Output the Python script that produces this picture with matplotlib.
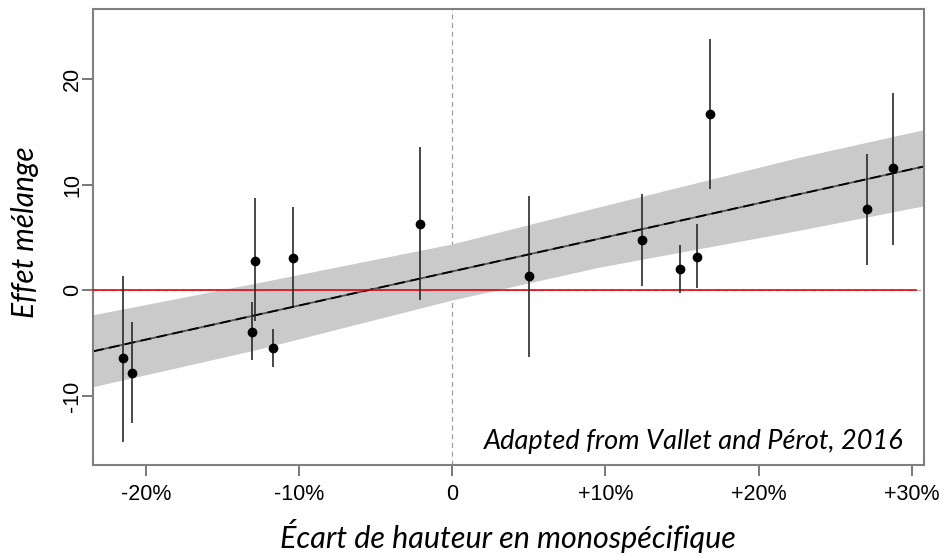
"""Mixing effect vs. monospecific height gap, with fitted trend and confidence band."""
import matplotlib
matplotlib.use("Agg")
import matplotlib.pyplot as plt

# stand-level estimates (height gap in %, mixing effect) with interval bounds
gap = [-21.5, -20.9, -13.1, -12.9, -11.7, -10.4, -2.1, 5.0, 12.4, 14.9, 16.0, 16.8, 27.1, 28.8]
effect = [-6.4, -7.8, -3.9, 2.8, -5.4, 3.1, 6.3, 1.4, 4.8, 2.0, 3.2, 16.7, 7.7, 11.6]
effect_low = [-14.3, -12.5, -6.6, -2.9, -7.2, -1.5, -0.9, -6.3, 0.4, -0.2, 0.2, 9.6, 2.4, 4.3]
effect_high = [1.4, -3.0, -1.1, 8.7, -3.6, 7.9, 13.6, 8.9, 9.1, 4.3, 6.3, 23.8, 12.9, 18.7]

# fitted line and its confidence band
fit_x = [-23.46, 30.8]
fit_y = [-5.76, 11.72]
band_x = [-23.46, -12.8, 0.0, 9.6, 22.7, 30.8]
band_low = [-9.1, -5.6, -0.9, 2.2, 5.7, 8.0]
band_high = [-2.3, 0.7, 4.4, 7.9, 12.6, 15.2]

x_ticks = [-20, -10, 0, 10, 20, 30]
x_tick_labels = ["-20%", "-10%", "0", "+10%", "+20%", "+30%"]
y_ticks = [-10, 0, 10, 20]

fig = plt.figure(figsize=(9.41, 5.56), dpi=100)
ax = fig.add_axes([93 / 941, 91 / 556, 831 / 941, 456 / 556])

ax.fill_between(band_x, band_low, band_high, color="#cacaca", lw=0, zorder=1)
ax.plot(fit_x, fit_y, color="#555555", lw=1.3, zorder=2)
ax.plot(fit_x, fit_y, color="black", lw=1.3, ls=(0, (6, 3)), zorder=2)

ax.axvline(0, color="#a0a0a0", lw=0.9, ls=(0, (4, 3)), zorder=0)
ax.axhline(0, color="#b0b0b0", lw=0.9, ls=(0, (4, 3)), zorder=0)
ax.plot([-23.46, 30.3], [0, 0], color="#e8000b", lw=1.2, zorder=3, clip_on=False)

ax.vlines(gap, effect_low, effect_high, color="#2a2a2a", lw=1.2, zorder=4)
ax.plot(gap, effect, "o", color="black", ms=6, zorder=5)

ax.set_xlim(-23.46, 30.8)
ax.set_ylim(-16.5, 26.6)
ax.set_xticks(x_ticks, labels=x_tick_labels, fontfamily="Liberation Sans", fontsize=15.5)
ax.set_yticks(y_ticks, labels=[str(v) for v in y_ticks], fontfamily="Liberation Sans",
              fontsize=15.5, rotation=90, va="center")
ax.tick_params(axis="both", length=8, width=1.1, color="#555555")
ax.tick_params(axis="x", pad=6)
ax.tick_params(axis="y", pad=-1)
for spine in ax.spines.values():
    spine.set_color("#808080")
    spine.set_linewidth(1.5)

ax.text(0.976, 0.035, "Adapted from Vallet and Pérot, 2016", transform=ax.transAxes,
        ha="right", va="baseline", fontfamily="Lato", style="italic", fontsize=19.5)

fig.text(508 / 941, 1 - 536 / 556, "Écart de hauteur en monospécifique", ha="center", va="center",
         fontfamily="Lato", style="italic", fontsize=22)
fig.text(25 / 941, 1 - 232 / 556, "Effet mélange", ha="center", va="center", rotation=90,
         fontfamily="Lato", style="italic", fontsize=21.5)

fig.savefig("out.png", dpi=100)
plt.close(fig)
